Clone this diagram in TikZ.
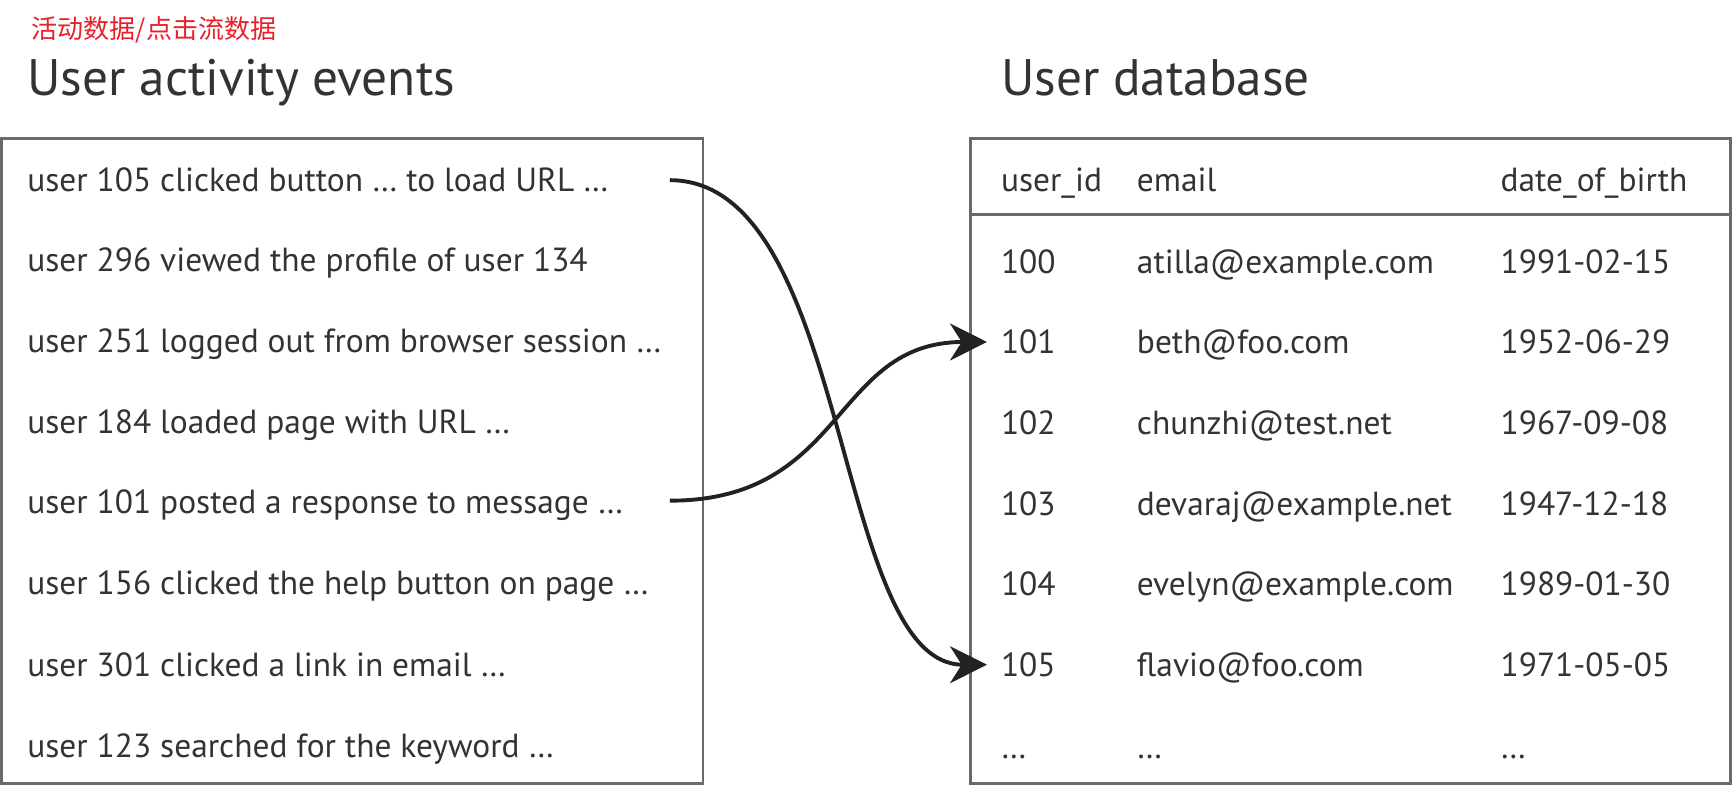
\documentclass[tikz,border=0pt]{standalone}
\usepackage{fontspec}
\setmainfont{PT Sans}
\newfontfamily\cjk{Noto Sans CJK SC}
\usetikzlibrary{arrows.meta}
\definecolor{txt}{HTML}{333333}
\definecolor{boxc}{HTML}{6A6A6A}
\definecolor{arrc}{HTML}{222222}
\definecolor{redc}{HTML}{E8202A}
\begin{document}
\begin{tikzpicture}[x=0.01cm,y=-0.01cm,
  row/.style={anchor=base west, inner sep=0pt, text=txt, font=\fontsize{8.6}{10}\selectfont},
  ttl/.style={anchor=base west, inner sep=0pt, text=txt, font=\fontsize{13.2}{15}\selectfont},
  panel/.style={draw=boxc, line width=0.7pt},
  link/.style={draw=arrc, line width=1pt, -{Stealth[length=9.5pt,width=9.5pt,inset=3pt]}}]
\useasboundingbox (0,0) rectangle (1568,711);
\fill[white] (0,0) rectangle (1568,711);
% titles
\node[anchor=west, inner sep=0pt, text=redc, font=\cjk\fontsize{6.7}{8}\selectfont] (cn) at (28,27) {活动数据/点击流数据};
\node[ttl] (t1) at (24,86) {User activity events};
\node[ttl] (t2) at (905,86) {User database};
% panels
\draw[panel] (1.5,125) rectangle (636,709);
\draw[panel] (878,125) rectangle (1566,709);
\draw[panel] (878,194) -- (1566,194);
% events
\node[row] (e1) at (24,173) {user 105 clicked button … to load URL …};
\node[row] (e2) at (24,246) {user 296 viewed the profile of user 134};
\node[row] (e3) at (24,319) {user 251 logged out from browser session …};
\node[row] (e4) at (24,392) {user 184 loaded page with URL …};
\node[row] (e5) at (24,465) {user 101 posted a response to message …};
\node[row] (e6) at (24,538) {user 156 clicked the help button on page …};
\node[row] (e7) at (24,612) {user 301 clicked a link in email …};
\node[row] (e8) at (24,685) {user 123 searched for the keyword …};
% table header
\node[row] (h1) at (905,173) {user\_id};
\node[row] (h2) at (1028,173) {email};
\node[row] (h3) at (1357,173) {date\_of\_birth};
% table rows
\node[row] (r100) at (905,247) {100};
\node[row] (m100) at (1028,247) {atilla@example.com};
\node[row] (d100) at (1357,247) {1991-02-15};
\node[row] (r101) at (905,320) {101};
\node[row] (m101) at (1028,320) {beth@foo.com};
\node[row] (d101) at (1357,320) {1952-06-29};
\node[row] (r102) at (905,393) {102};
\node[row] (m102) at (1028,393) {chunzhi@test.net};
\node[row] (d102) at (1357,393) {1967-09-08};
\node[row] (r103) at (905,466) {103};
\node[row] (m103) at (1028,466) {devaraj@example.net};
\node[row] (d103) at (1357,466) {1947-12-18};
\node[row] (r104) at (905,539) {104};
\node[row] (m104) at (1028,539) {evelyn@example.com};
\node[row] (d104) at (1357,539) {1989-01-30};
\node[row] (r105) at (905,612) {105};
\node[row] (m105) at (1028,612) {flavio@foo.com};
\node[row] (d105) at (1357,612) {1971-05-05};
\node[row] (rx) at (905,686) {…};
\node[row] (mx) at (1028,686) {…};
\node[row] (dx) at (1357,686) {…};
% connectors
\coordinate (s1) at (606,163);
\coordinate (s2) at (606,453);
\draw[link] (s1) .. controls +(165,0) and +(-140,0) .. ([xshift=-0.12cm]r105.west);
\draw[link] (s2) .. controls +(160,0) and +(-140,0) .. ([xshift=-0.12cm]r101.west);
\end{tikzpicture}
\end{document}
